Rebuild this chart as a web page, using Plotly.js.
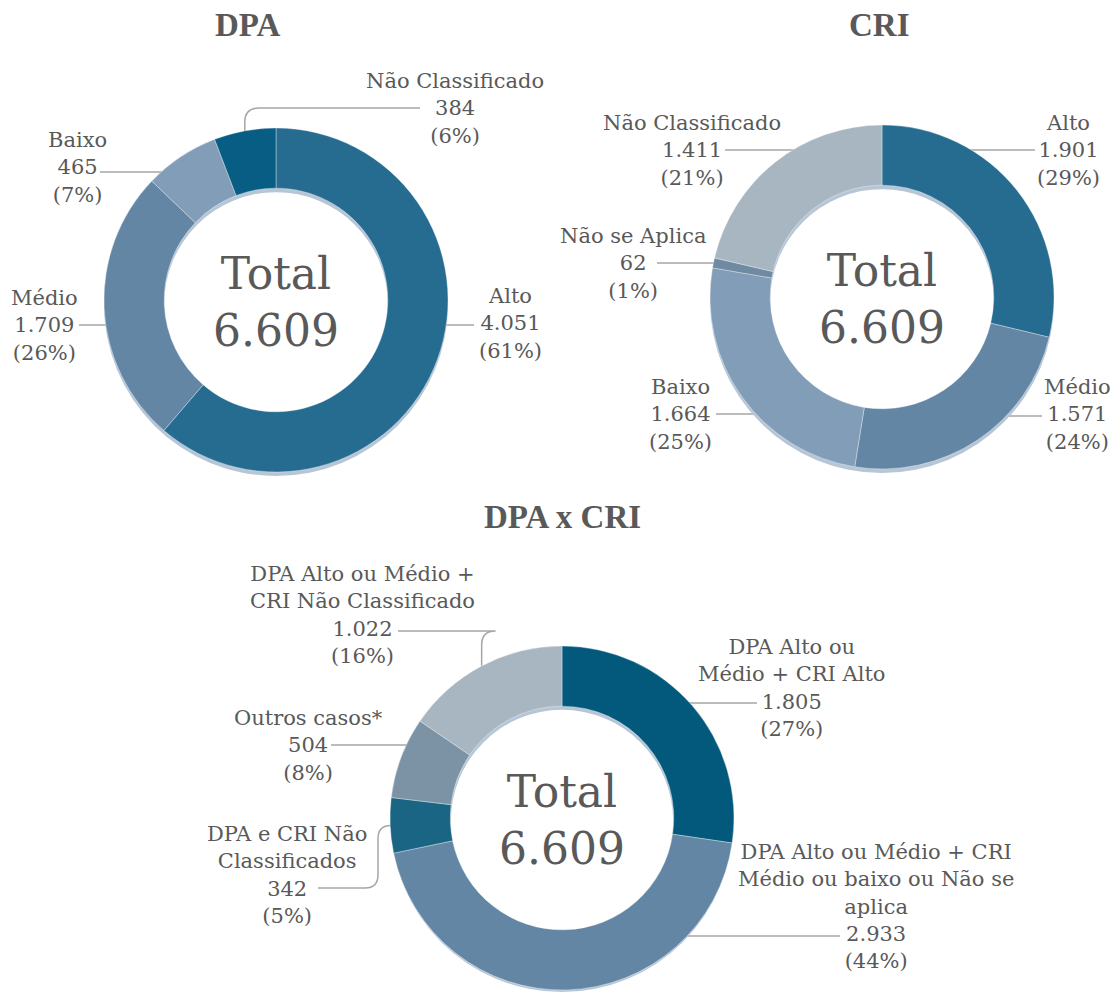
<!DOCTYPE html>
<html>
<head>
<meta charset="utf-8">
<script src="https://cdn.plot.ly/plotly-3.0.1.min.js"></script>
<style>
  html, body { margin: 0; padding: 0; background: #ffffff; }
  #chart { width: 1116px; height: 992px; }
</style>
</head>
<body>
<div id="chart"></div>
<script>
// ---------------- DATA ----------------
const dpaLabels = ["Alto", "Médio", "Baixo", "Não Classificado"];
const dpaValues = [4051, 1709, 465, 384];
const dpaPcts = [61, 26, 7, 6];

const criLabels = ["Alto", "Médio", "Baixo", "Não se Aplica", "Não Classificado"];
const criValues = [1901, 1571, 1664, 62, 1411];
const criPcts = [29, 24, 25, 1, 21];

const crossLabels = [
  "DPA Alto ou<br>Médio + CRI Alto",
  "DPA Alto ou Médio + CRI<br>Médio ou baixo ou Não se<br>aplica",
  "DPA e CRI Não<br>Classificados",
  "Outros casos*",
  "DPA Alto ou Médio +<br>CRI Não Classificado"
];
const crossValues = [1805, 2933, 342, 504, 1022];
const crossPcts = [27, 44, 5, 8, 16];

const chartTitles = ["DPA", "CRI", "DPA x CRI"];
const totalLabel = "Total";
const totalValue = 6609;

// ---------------- STYLE / LAYOUT ----------------
const W = 1116, H = 992;
const FONT = "DejaVu Serif, serif";
const TEXT = "#595959";
const LINE = "#a6a6a6";
const SHADOW = "#b7c6d6";
const HOLE = 0.65;
const R = 172;

const charts = [
  { cx: 276, cy: 300, colors: ["#256c90", "#6386a5", "#829db7", "#085d85"],
    labels: dpaLabels, values: dpaValues, pcts: dpaPcts,
    title: { x: 248, y: 25 },
    lab: [
      { x: 510, y: 323, line: { kind: "h", x0: 474, y: 325, side: 1 } },
      { x: 44,  y: 325, line: { kind: "h", x0: 79,  y: 325, side: -1 } },
      { x: 78,  y: 168, line: { kind: "h", x0: 100, y: 172, side: -1 } },
      { x: 455, y: 108, line: { kind: "hv", x0: 420, y: 108 } }
    ] },
  { cx: 882, cy: 297, colors: ["#256c90", "#6386a5", "#829db7", "#6f8aa2", "#a7b6c1"],
    labels: criLabels, values: criValues, pcts: criPcts,
    title: { x: 879, y: 25 },
    lab: [
      { x: 1068, y: 150, line: { kind: "h", x0: 1035, y: 150, side: 1 } },
      { x: 1077, y: 414, line: { kind: "h", x0: 1042, y: 416, side: 1 } },
      { x: 680,  y: 414, line: { kind: "h", x0: 716,  y: 414, side: -1 } },
      { x: 633,  y: 263, line: { kind: "h", x0: 657,  y: 263, side: -1 } },
      { x: 692,  y: 150, line: { kind: "h", x0: 725,  y: 150, side: -1 } }
    ] },
  { cx: 562, cy: 818, colors: ["#03597c", "#6386a5", "#1a6584", "#7c93a5", "#a7b6c1"],
    labels: crossLabels, values: crossValues, pcts: crossPcts,
    title: { x: 562, y: 517 },
    lab: [
      { x: 792, y: 688, line: { kind: "h", x0: 757, y: 703, side: 1 } },
      { x: 876, y: 906, line: { kind: "h", x0: 840, y: 936, side: 1 } },
      { x: 287, y: 875, line: { kind: "hvh", x0: 318, y: 888, xm: 378 } },
      { x: 308, y: 745, line: { kind: "h", x0: 331, y: 745, side: -1 } },
      { x: 362, y: 615, line: { kind: "hv", x0: 398, y: 631 } }
    ] }
];

// ---------------- HELPERS ----------------
const px = x => x / W;
const py = y => 1 - y / H;
const fmt = v => String(v).replace(/\B(?=(\d{3})+(?!\d))/g, ".");
function dom(cx, cy, r, dy) {
  return { x: [px(cx - r), px(cx + r)], y: [py(cy + r + dy), py(cy - r + dy)] };
}
function midPoint(c, i) {
  const tot = c.values.reduce((a, b) => a + b, 0);
  let before = 0;
  for (let k = 0; k < i; k++) before += c.values[k];
  const frac = (before + c.values[i] / 2) / tot;
  const a = frac * 2 * Math.PI;
  return { x: c.cx + R * Math.sin(a), y: c.cy - R * Math.cos(a) };
}
const P = (x, y) => px(x).toFixed(5) + "," + py(y).toFixed(5);

const data = [];
const annotations = [];
const shapes = [];

charts.forEach((c, ci) => {
  // shadow ring
  data.push({
    type: "pie", values: [1], marker: { colors: [SHADOW], line: { width: 0 } },
    hole: HOLE, sort: false, textinfo: "none", hoverinfo: "skip",
    domain: dom(c.cx, c.cy, R, 4), showlegend: false
  });
  // main ring
  data.push({
    type: "pie", values: c.values, labels: c.labels,
    marker: { colors: c.colors, line: { color: "rgba(255,255,255,0.35)", width: 1 } },
    hole: HOLE, sort: false, direction: "clockwise", rotation: 0,
    textinfo: "none", hoverinfo: "label+value+percent",
    domain: dom(c.cx, c.cy, R, 0), showlegend: false
  });
  // title
  annotations.push({
    xref: "paper", yref: "paper", x: px(c.title.x), y: py(c.title.y),
    xanchor: "center", yanchor: "middle", showarrow: false,
    text: "<b>" + chartTitles[ci] + "</b>",
    font: { family: "Liberation Serif, serif", size: 33, color: TEXT }
  });
  // center total
  annotations.push({
    xref: "paper", yref: "paper", x: px(c.cx), y: py(c.cy + 2),
    xanchor: "center", yanchor: "middle", showarrow: false,
    text: totalLabel + "<br>" + fmt(totalValue),
    font: { family: FONT, size: 44, color: TEXT }
  });
  // labels and leader lines
  c.lab.forEach((L, i) => {
    annotations.push({
      xref: "paper", yref: "paper", x: px(L.x), y: py(L.y),
      xanchor: "center", yanchor: "middle", showarrow: false, align: "center",
      text: c.labels[i] + "<br>" + fmt(c.values[i]) + "<br>(" + c.pcts[i] + "%)",
      font: { family: FONT, size: 21, color: TEXT }
    });
    const ln = L.line;
    let path;
    if (ln.kind === "h") {
      const dy = ln.y - c.cy;
      const xe = c.cx + ln.side * (Math.sqrt(R * R - dy * dy) - 12);
      path = "M" + P(ln.x0, ln.y) + " L" + P(xe, ln.y);
    } else if (ln.kind === "hv") {
      const m = midPoint(c, i);
      const k = 14;
      path = "M" + P(ln.x0, ln.y) + " L" + P(m.x + k, ln.y) +
             " Q" + P(m.x, ln.y) + " " + P(m.x, ln.y + k) +
             " L" + P(m.x, m.y + 6);
    } else {
      const m = midPoint(c, i);
      const k = 13;
      path = "M" + P(ln.x0, ln.y) + " L" + P(ln.xm - k, ln.y) +
             " Q" + P(ln.xm, ln.y) + " " + P(ln.xm, ln.y - k) +
             " L" + P(ln.xm, m.y + k) +
             " Q" + P(ln.xm, m.y) + " " + P(ln.xm + k, m.y) +
             " L" + P(m.x + 8, m.y);
    }
    shapes.push({
      type: "path", xref: "paper", yref: "paper", path: path, layer: "below",
      line: { color: LINE, width: 1.5 }
    });
  });
});

const layout = {
  width: W, height: H,
  margin: { l: 0, r: 0, t: 0, b: 0 },
  paper_bgcolor: "#ffffff",
  plot_bgcolor: "#ffffff",
  showlegend: false,
  annotations: annotations,
  shapes: shapes,
  font: { family: FONT, color: TEXT }
};

Plotly.newPlot("chart", data, layout, { displayModeBar: false, staticPlot: false });
</script>
</body>
</html>
